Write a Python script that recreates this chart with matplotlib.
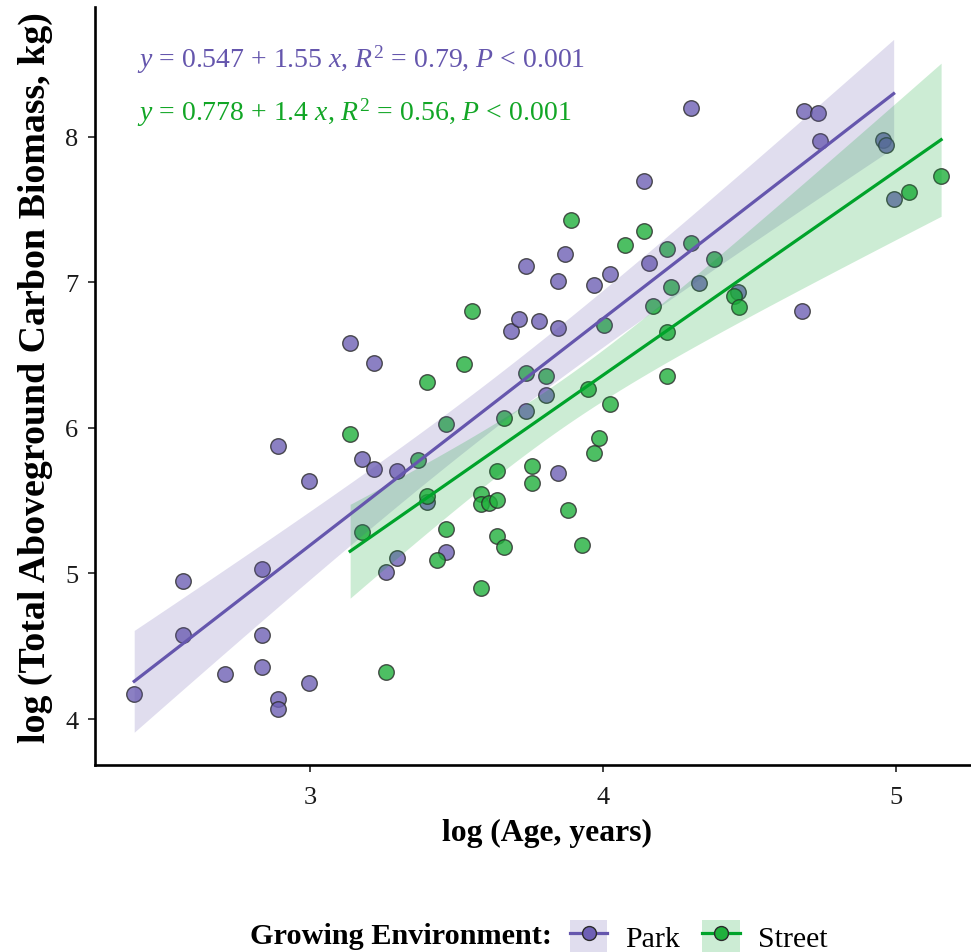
import numpy as np
import matplotlib
matplotlib.use("Agg")
import matplotlib.pyplot as plt
from matplotlib.patches import Patch
from matplotlib.lines import Line2D

plt.rcParams['font.family'] = ['Liberation Serif', 'DejaVu Serif']
plt.rcParams['mathtext.fontset'] = 'custom'
plt.rcParams['mathtext.rm'] = 'Liberation Serif'
plt.rcParams['mathtext.it'] = 'Liberation Serif:italic'

park_x = [2.400, 2.567, 2.567, 2.710, 2.835, 2.835, 2.835, 2.892, 2.892, 2.892, 2.997, 2.997,
          3.137, 3.177, 3.218, 3.218, 3.296, 3.296, 3.258, 3.399, 3.464, 3.687, 3.713, 3.737,
          3.736, 3.783, 3.805, 3.847, 3.847, 3.847, 3.870, 3.968, 4.023, 4.141, 4.157, 4.302,
          4.328, 4.462, 4.678, 4.687, 4.733, 4.741, 4.957, 4.965, 4.992]
park_y = [4.172, 4.946, 4.577, 4.307, 5.029, 4.577, 4.355, 5.876, 4.137, 4.069, 5.636, 4.245,
          6.582, 5.787, 6.447, 5.718, 5.702, 5.109, 5.008, 5.489, 5.146, 6.665, 6.747, 7.113,
          6.115, 6.738, 6.229, 7.012, 6.685, 5.689, 7.196, 6.983, 7.058, 7.700, 7.136, 8.197,
          6.997, 6.937, 6.806, 8.176, 8.163, 7.975, 7.982, 7.945, 7.574]

street_x = [3.137, 3.177, 3.258, 3.367, 3.399, 3.400, 3.432, 3.464, 3.464, 3.526, 3.554, 3.583,
            3.583, 3.583, 3.611, 3.637, 3.637, 3.637, 3.662, 3.662, 3.736, 3.759, 3.759, 3.805,
            3.879, 3.891, 3.929, 3.948, 3.968, 3.987, 4.004, 4.023, 4.074, 4.140, 4.169, 4.217,
            4.217, 4.217, 4.232, 4.302, 4.379, 4.447, 4.463, 5.044, 5.154]
street_y = [5.957, 5.283, 4.321, 5.778, 5.531, 6.316, 5.095, 6.027, 5.308, 6.440, 6.802, 5.548,
            5.477, 4.903, 5.484, 5.707, 5.503, 5.256, 6.069, 5.184, 6.378, 5.741, 5.622, 6.360,
            5.436, 7.427, 5.194, 6.271, 5.828, 5.929, 6.710, 6.165, 7.256, 7.356, 6.841, 7.233,
            6.660, 6.357, 6.969, 7.272, 7.159, 6.907, 6.829, 7.620, 7.730]

groups = ["Park", "Street"]
eq_labels = [r"$y$ = 0.547 + 1.55 $x$, $R^2$ = 0.79, $P$ < 0.001",
             r"$y$ = 0.778 + 1.4 $x$, $R^2$ = 0.56, $P$ < 0.001"]

line_colors = {"Park": "#6556ad", "Street": "#00a32a"}
point_colors = {"Park": "#6e60b5", "Street": "#20b03c"}
text_colors = {"Park": "#6556ad", "Street": "#12a626"}
t_q = {"Park": 2.0141, "Street": 2.0141}

W, H = 971, 953
fig = plt.figure(figsize=(W / 100, H / 100), dpi=100)
ax = fig.add_axes([95 / W, 1 - 766 / H, (W - 95) / W, (766 - 8) / H])

data = {"Park": (np.array(park_x), np.array(park_y)),
        "Street": (np.array(street_x), np.array(street_y))}

for g in groups:
    x, y = data[g]
    ax.scatter(x, y, s=125, facecolor=point_colors[g], edgecolor="#2a2a2a",
               linewidths=1.0, alpha=0.8, zorder=2)

for g in groups:
    x, y = data[g]
    n = len(x)
    b1, b0 = np.polyfit(x, y, 1)
    resid = y - (b0 + b1 * x)
    s = np.sqrt(np.sum(resid ** 2) / (n - 2))
    xs = np.linspace(x.min(), x.max(), 100)
    ys = b0 + b1 * xs
    se = s * np.sqrt(1 / n + (xs - x.mean()) ** 2 / np.sum((x - x.mean()) ** 2))
    ax.fill_between(xs, ys - t_q[g] * se, ys + t_q[g] * se, color=line_colors[g],
                    alpha=0.2, linewidth=0, zorder=3)
    ax.plot(xs, ys, color=line_colors[g], linewidth=2.3, zorder=4)

ax.text(2.41, 8.536, eq_labels[0], color=text_colors["Park"], fontsize=20,
        ha="left", va="center")
ax.text(2.41, 8.17, eq_labels[1], color=text_colors["Street"], fontsize=20,
        ha="left", va="center")

ax.set_xlim(2.2662, 5.256)
ax.set_ylim(3.684, 8.893)
ax.set_xticks([3, 4, 5])
ax.set_yticks([4, 5, 6, 7, 8])
for sp in ["top", "right"]:
    ax.spines[sp].set_visible(False)
for sp in ["left", "bottom"]:
    ax.spines[sp].set_linewidth(1.9)
    ax.spines[sp].set_color("black")
ax.tick_params(axis="both", length=5, width=1.3, color="#333333",
               labelsize=19, labelcolor="#1a1a1a")
ax.tick_params(axis="x", pad=10)
ax.tick_params(axis="y", pad=7)
ax.set_xlabel("log (Age, years)", fontsize=22.8, fontweight="bold", va="center")
ax.xaxis.set_label_coords((547 - 95) / 876, (766 - 833) / 758)
ax.set_ylabel("log (Total Aboveground Carbon Biomass, kg)", fontsize=27.3,
              fontweight="bold", va="center")
ax.yaxis.set_label_coords((35 - 95) / 876, (766 - 378) / 758)

handles = []
for g in groups:
    p = Patch(facecolor=line_colors[g], alpha=0.2, edgecolor="none")
    l = Line2D([0], [0], color=line_colors[g], linewidth=2.3, marker="o",
               markersize=10, markerfacecolor=point_colors[g], markeredgecolor="#2a2a2a",
               markeredgewidth=1.0, alpha=1)
    handles.append((p, l))

fig.text(250 / W, 1 - 937 / H, "Growing Environment:", fontsize=21.8,
         fontweight="bold", ha="left", va="center")
leg = fig.legend(handles, groups, loc="center left",
                 bbox_to_anchor=(570 / W, 1 - 937 / H), ncol=2, frameon=False,
                 fontsize=21.5, handlelength=1.25, handleheight=1.25,
                 handletextpad=0.6, columnspacing=0.75, borderpad=0, borderaxespad=0)

fig.savefig("out.png", dpi=100)
